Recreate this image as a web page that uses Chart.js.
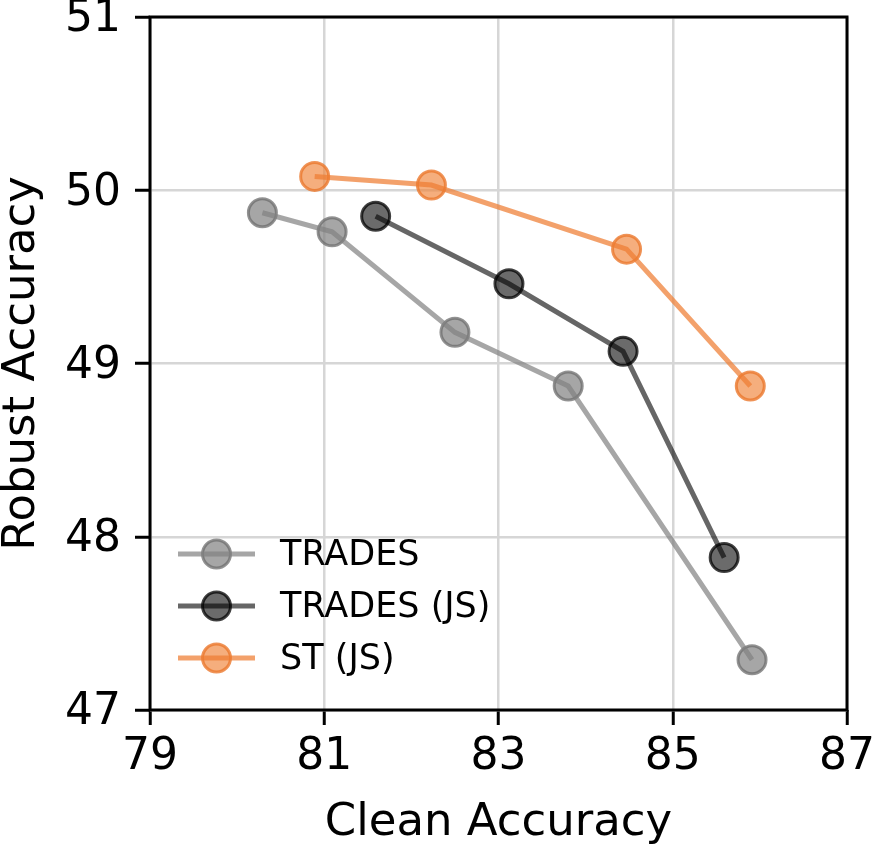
<!DOCTYPE html>
<html>
<head>
<meta charset="utf-8">
<script src="https://cdn.jsdelivr.net/npm/chart.js@4.4.1/dist/chart.umd.min.js"></script>
<style>
  html, body { margin: 0; padding: 0; background: #fff; }
  #wrap { width: 875px; height: 846px; position: relative; }
</style>
</head>
<body>
<div id="wrap"><canvas id="tradeoffChart"></canvas></div>
<script>
// values
const tradesX = [80.29, 81.09, 82.50, 83.80, 85.91];
const tradesY = [49.87, 49.76, 49.18, 48.87, 47.29];
const tradesJsX = [81.59, 83.12, 84.43, 85.59];
const tradesJsY = [49.85, 49.46, 49.07, 47.88];
const stJsX = [80.89, 82.23, 84.47, 85.89];
const stJsY = [50.08, 50.03, 49.66, 48.87];
const seriesLabels = ['TRADES', 'TRADES (JS)', 'ST (JS)'];
const xTicks = [79, 81, 83, 85, 87];
const yTicks = [47, 48, 49, 50, 51];

const font = "'DejaVu Sans', sans-serif";

const toPoints = (xs, ys) => xs.map((x, i) => ({ x: x, y: ys[i] }));

function seriesStyle(line, fill, edge) {
    return {
        borderColor: line,
        borderWidth: 5,
        tension: 0,
        pointRadius: 14,
        pointHoverRadius: 14,
        pointBackgroundColor: fill,
        pointBorderColor: edge,
        pointBorderWidth: 3,
        fill: false
    };
}

// draw markers first and the line over them, like matplotlib does
const lineOnTopPlugin = {
    id: 'lineOnTop',
    beforeDatasetDraw(chart, args) {
        const meta = args.meta;
        const area = chart.chartArea;
        meta.data.forEach(pt => pt.draw(chart.ctx, area));
        meta.dataset.draw(chart.ctx, area);
        return false;
    }
};

// frame round the plot area
const framePlugin = {
    id: 'frame',
    afterDatasetsDraw(chart) {
        const { ctx, chartArea: a } = chart;
        ctx.save();
        ctx.strokeStyle = '#000';
        ctx.lineWidth = 3;
        ctx.strokeRect(a.left, a.top, a.right - a.left, a.bottom - a.top);
        ctx.restore();
    }
};

// matplotlib-like legend: line + marker, bottom left inside the axes
const legendPlugin = {
    id: 'innerLegend',
    afterDraw(chart) {
        const { ctx, chartArea: a } = chart;
        const x0 = a.left + 28, x1 = a.left + 105, xm = (x0 + x1) / 2;
        ctx.save();
        chart.data.datasets.forEach((ds, i) => {
            const y = a.bottom - 156 + i * 52;
            ctx.beginPath();
            ctx.arc(xm, y, 14, 0, Math.PI * 2);
            ctx.fillStyle = ds.pointBackgroundColor;
            ctx.fill();
            ctx.lineWidth = 3;
            ctx.strokeStyle = ds.pointBorderColor;
            ctx.stroke();
            ctx.beginPath();
            ctx.moveTo(x0, y);
            ctx.lineTo(x1, y);
            ctx.lineWidth = 5;
            ctx.strokeStyle = ds.borderColor;
            ctx.stroke();
            ctx.fillStyle = '#000';
            ctx.font = '35px ' + font;
            ctx.textBaseline = 'middle';
            ctx.fillText(ds.label, a.left + 130, y + 2);
        });
        ctx.restore();
    }
};

new Chart(document.getElementById('tradeoffChart'), {
    type: 'line',
    data: {
        datasets: [
            { label: seriesLabels[0], data: toPoints(tradesX, tradesY),
              ...seriesStyle('rgba(128,128,128,0.7)', 'rgba(128,128,128,0.7)', 'rgba(110,110,110,0.75)') },
            { label: seriesLabels[1], data: toPoints(tradesJsX, tradesJsY),
              ...seriesStyle('rgba(0,0,0,0.6)', 'rgba(0,0,0,0.58)', 'rgba(0,0,0,0.75)') },
            { label: seriesLabels[2], data: toPoints(stJsX, stJsY),
              ...seriesStyle('rgba(238,125,50,0.72)', 'rgba(240,130,55,0.65)', 'rgba(235,120,45,0.8)') }
        ]
    },
    options: {
        responsive: true,
        maintainAspectRatio: false,
        animation: false,
        layout: { padding: { top: 17, right: 28, bottom: 0, left: 0 } },
        plugins: {
            legend: { display: false },
            tooltip: { enabled: false }
        },
        scales: {
            x: {
                type: 'linear',
                min: xTicks[0],
                max: xTicks[xTicks.length - 1],
                afterBuildTicks: s => { s.ticks = xTicks.map(v => ({ value: v })); },
                afterFit: s => { s.height = 136; s.paddingLeft = 0; s.paddingRight = 0; },
                grid: { color: '#d6d6d6', lineWidth: 2.5, tickColor: '#000', tickLength: 15, tickWidth: 3 },
                border: { display: false },
                ticks: { color: '#000', font: { family: font, size: 44 }, padding: 6, maxRotation: 0 },
                title: {
                    display: true, text: 'Clean Accuracy', color: '#000',
                    font: { family: font, size: 45, lineHeight: 1 }, padding: { top: 0, bottom: 0 }
                }
            },
            y: {
                type: 'linear',
                min: yTicks[0],
                max: yTicks[yTicks.length - 1],
                afterBuildTicks: s => { s.ticks = yTicks.map(v => ({ value: v })); },
                afterFit: s => { s.width = 150; s.paddingTop = 0; s.paddingBottom = 0; },
                grid: { color: '#d6d6d6', lineWidth: 2.5, tickColor: '#000', tickLength: 15, tickWidth: 3 },
                border: { display: false },
                ticks: { color: '#000', font: { family: font, size: 44 }, padding: 14, labelOffset: 3 },
                title: {
                    display: true, text: 'Robust Accuracy', color: '#000',
                    font: { family: font, size: 45, lineHeight: 1 }, padding: { top: 0, bottom: 0 }
                }
            }
        }
    },
    plugins: [lineOnTopPlugin, framePlugin, legendPlugin]
});
</script>
</body>
</html>
